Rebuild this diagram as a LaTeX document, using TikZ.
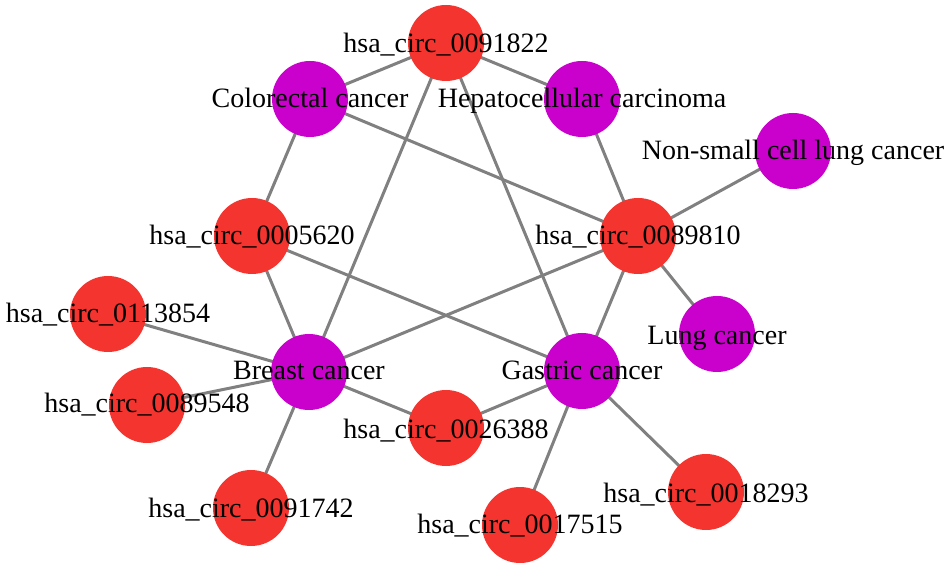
\documentclass[tikz,border=0pt]{standalone}
\usepackage{fontspec}
\setmainfont{Liberation Serif}
\usetikzlibrary{backgrounds}
\definecolor{circred}{RGB}{244,52,46}
\definecolor{dispurple}{RGB}{202,0,204}
\definecolor{edgegray}{RGB}{128,128,128}
\begin{document}
\begin{tikzpicture}[x=1pt,y=-1pt,
  circnode/.style={circle,fill=circred,draw=none,minimum size=76pt,inner sep=0pt},
  disnode/.style={circle,fill=dispurple,draw=none,minimum size=76pt,inner sep=0pt},
  lbl/.style={anchor=base,inner sep=0pt,font=\fontsize{28}{28}\selectfont,text=black},
  edge/.style={draw=edgegray,line width=3pt}]
\useasboundingbox (0,0) rectangle (951,569);
% nodes
\node[circnode] (c1822) at (446,43) {};
\node[disnode] (crc) at (310,99) {};
\node[disnode] (hcc) at (582,99) {};
\node[disnode] (nsclc) at (793,151) {};
\node[circnode] (c5620) at (252,236) {};
\node[circnode] (c9810) at (638,236) {};
\node[circnode] (c3854) at (108,314) {};
\node[disnode] (brc) at (309,372) {};
\node[disnode] (gac) at (582,371) {};
\node[disnode] (luc) at (717,334) {};
\node[circnode] (c9548) at (147,405) {};
\node[circnode] (c6388) at (446,428) {};
\node[circnode] (c1742) at (251,508) {};
\node[circnode] (c7515) at (520,525) {};
\node[circnode] (c8293) at (706,492) {};
% edges (behind nodes)
\begin{scope}[on background layer]
\draw[edge] (c1822.center) -- (crc.center);
\draw[edge] (c1822.center) -- (hcc.center);
\draw[edge] (c1822.center) -- (brc.center);
\draw[edge] (c1822.center) -- (gac.center);
\draw[edge] (crc.center) -- (c5620.center);
\draw[edge] (crc.center) -- (c9810.center);
\draw[edge] (hcc.center) -- (c9810.center);
\draw[edge] (nsclc.center) -- (c9810.center);
\draw[edge] (c9810.center) -- (luc.center);
\draw[edge] (c9810.center) -- (brc.center);
\draw[edge] (c9810.center) -- (gac.center);
\draw[edge] (c5620.center) -- (brc.center);
\draw[edge] (c5620.center) -- (gac.center);
\draw[edge] (c3854.center) -- (brc.center);
\draw[edge] (c9548.center) -- (brc.center);
\draw[edge] (brc.center) -- (c6388.center);
\draw[edge] (brc.center) -- (c1742.center);
\draw[edge] (gac.center) -- (c6388.center);
\draw[edge] (gac.center) -- (c7515.center);
\draw[edge] (gac.center) -- (c8293.center);
\end{scope}
% labels
\node[lbl] (l1822) at ([yshift=-10pt]c1822.center) {hsa\_circ\_0091822};
\node[lbl] (lcrc) at ([yshift=-9pt]crc.center) {Colorectal cancer};
\node[lbl] (lhcc) at ([yshift=-9pt]hcc.center) {Hepatocellular carcinoma};
\node[lbl] (lnsclc) at ([yshift=-9pt]nsclc.center) {Non-small cell lung cancer};
\node[lbl] (l5620) at ([yshift=-9pt]c5620.center) {hsa\_circ\_0005620};
\node[lbl] (l9810) at ([yshift=-9pt]c9810.center) {hsa\_circ\_0089810};
\node[lbl] (l3854) at ([yshift=-9pt]c3854.center) {hsa\_circ\_0113854};
\node[lbl] (lbrc) at ([yshift=-8pt]brc.center) {Breast cancer};
\node[lbl] (lgac) at ([yshift=-9pt]gac.center) {Gastric cancer};
\node[lbl] (lluc) at ([yshift=-11pt]luc.center) {Lung cancer};
\node[lbl] (l9548) at ([yshift=-8pt]c9548.center) {hsa\_circ\_0089548};
\node[lbl] (l6388) at ([yshift=-10pt]c6388.center) {hsa\_circ\_0026388};
\node[lbl] (l1742) at ([yshift=-9pt]c1742.center) {hsa\_circ\_0091742};
\node[lbl] (l7515) at ([yshift=-8pt]c7515.center) {hsa\_circ\_0017515};
\node[lbl] (l8293) at ([yshift=-10pt]c8293.center) {hsa\_circ\_0018293};
\end{tikzpicture}
\end{document}
